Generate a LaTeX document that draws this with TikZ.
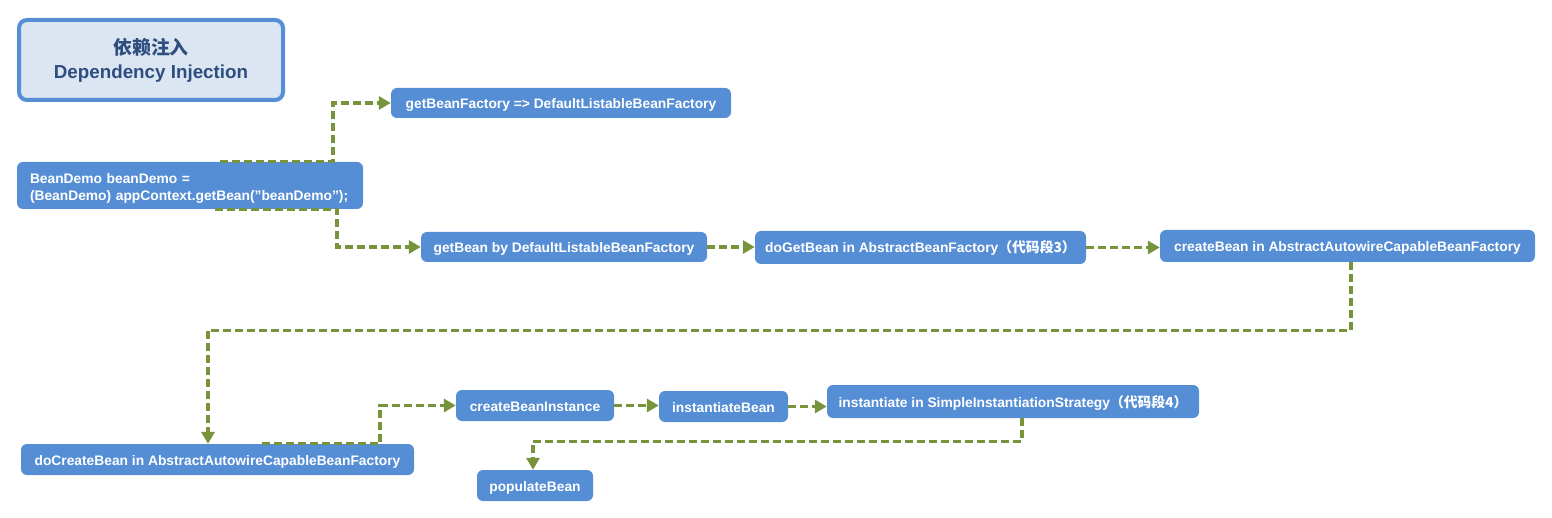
\documentclass[tikz,border=0pt]{standalone}
\usepackage{fontspec}
\setmainfont{Liberation Sans}
\newfontfamily\cjk{Noto Sans CJK SC}
\usetikzlibrary{arrows.meta}
\definecolor{boxblue}{RGB}{85,142,213}
\definecolor{titlefill}{RGB}{220,230,242}
\definecolor{titletext}{RGB}{46,78,128}
\definecolor{flowgreen}{RGB}{119,147,60}
\tikzset{
  callbox/.style={fill=boxblue, rounded corners=6pt, text=white, font=\bfseries\fontsize{13.8}{17}\selectfont, inner sep=0pt, text height=12pt, text depth=1pt},
  flow/.style={draw=flowgreen, line width=3.2pt, dash pattern=on 8pt off 4pt, -{Triangle[length=12pt,width=13pt]}}
}
\newcommand{\callbox}[6]{\node[callbox, minimum width=#4pt, minimum height=#5pt] (#1) at (#2,#3) {#6};}
\newcommand{\callnext}[2]{\draw[flow] (#1.east) -- (#1.east -| #2.west);}
\begin{document}
\begin{tikzpicture}[x=1pt,y=-1pt]
    \useasboundingbox (0,0) rectangle (1552,518);
    \node[draw=boxblue, line width=4pt, fill=titlefill, rounded corners=8pt, minimum width=264pt, minimum height=80pt, text=titletext, font=\bfseries\fontsize{18.8}{24}\selectfont, align=center] (title) at (151,60) {{\cjk 依赖注入}\\Dependency Injection};
    \callbox{gbf}{561}{103}{340}{30}{getBeanFactory => DefaultListableBeanFactory}
    \node[callbox, align=left, text height=, text depth=, font=\bfseries\fontsize{13.8}{17.5}\selectfont, text width=320pt, minimum width=346pt, minimum height=47pt] (bd) at (190,185.5) {\rule{0pt}{16pt}BeanDemo beanDemo =\\(BeanDemo) appContext.getBean("beanDemo");};
    \callbox{gb}{564}{247}{286}{30}{getBean by DefaultListableBeanFactory}
    \callbox{dgb}{920.5}{247.5}{331}{33}{doGetBean in AbstractBeanFactory{\cjk （代码段3）}}
    \callbox{cb}{1347.5}{246}{375}{32}{createBean in AbstractAutowireCapableBeanFactory}
    \callbox{dcb}{217.5}{459.5}{393}{31}{doCreateBean in AbstractAutowireCapableBeanFactory}
    \callbox{cbi}{535}{405.5}{158}{31}{createBeanInstance}
    \callbox{ib}{723.5}{406.5}{129}{31}{instantiateBean}
    \callbox{inst}{1013}{401.5}{372}{33}{instantiate in SimpleInstantiationStrategy{\cjk （代码段4）}}
    \callbox{pb}{535}{485.5}{116}{31}{populateBean}
    % getBean call splits into two steps
    \draw[flow] ([xshift=30pt]bd.north) -- ++(113,0) |- (gbf.west);
    \draw[flow] ([xshift=25pt]bd.south) -- ++(122,0) |- (gb.west);
    \callnext{gb}{dgb}\callnext{dgb}{cb}
    \draw[flow] ([xshift=3.5pt]cb.south) -- ++(0,68) -| ([xshift=-9.5pt]dcb.north);
    \draw[flow] ([xshift=44.5pt]dcb.north) -- ++(118,0) |- (cbi.west);
    \callnext{cbi}{ib}\callnext{ib}{inst}
    \draw[flow] ([xshift=9pt]inst.south) -- ++(0,23) -| ([xshift=-2pt]pb.north);
\end{tikzpicture}
\end{document}
